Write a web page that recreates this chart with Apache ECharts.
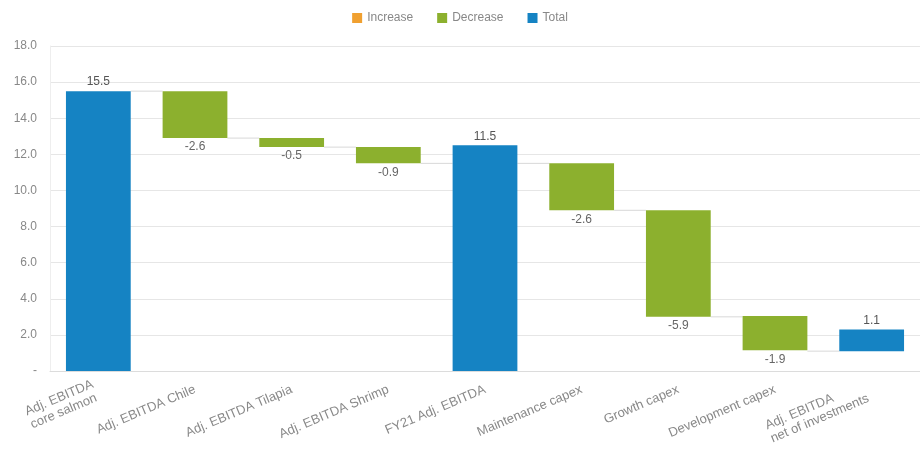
<!DOCTYPE html>
<html>
<head>
<meta charset="utf-8">
<title>Adj. EBITDA bridge</title>
<script src="https://cdn.jsdelivr.net/npm/echarts@6/dist/echarts.min.js"></script>
<style>
  html, body { margin: 0; padding: 0; background: #fff; }
  #chart { width: 920px; height: 450px; }
</style>
</head>
<body>
<div id="chart"></div>
<script>
const categories = [
  'Adj. EBITDA\ncore salmon',
  'Adj. EBITDA Chile',
  'Adj. EBITDA Tilapia',
  'Adj. EBITDA Shrimp',
  'FY21 Adj. EBITDA',
  'Maintenance capex',
  'Growth capex',
  'Development capex',
  'Adj. EBITDA\nnet of investments'
];
// invisible offset under each floating bar
const baseValues = [0, 12.9, 12.4, 11.5, 0, 8.9, 3.0, 1.15, 1.1];
const increaseValues = ['-', '-', '-', '-', '-', '-', '-', '-', '-'];
const decreaseValues = ['-', 2.6, 0.5, 0.9, '-', 2.6, 5.9, 1.9, '-'];
const totalValues = [15.5, '-', '-', '-', 12.5, '-', '-', '-', 1.2];
const barLabels = ['15.5', '-2.6', '-0.5', '-0.9', '11.5', '-2.6', '-5.9', '-1.9', '1.1'];
// level of the thin connector after each bar
const connectorLevels = [15.5, 12.9, 12.4, 11.5, 11.5, 8.9, 3.0, 1.1];

const COLORS = { increase: '#f0a030', decrease: '#8cb02e', total: '#1583c3' };

const chart = echarts.init(document.getElementById('chart'));

// two-line labels are left aligned inside their box
const labelFmt = v => {
  if (v.indexOf('\n') < 0) return v;
  return v.indexOf('salmon') > 0 ? '{s|' + v + '}' : '{n|' + v + '}';
};

const option = {
  animation: false,
  textStyle: { fontFamily: 'Liberation Sans, Arial, sans-serif' },
  legend: {
    top: 7,
    left: 'center',
    itemWidth: 10,
    itemHeight: 10,
    itemGap: 24,
    icon: 'rect',
    textStyle: { color: '#888', fontSize: 12 },
    data: ['Increase', 'Decrease', 'Total']
  },
  grid: { left: 50, right: -5, top: 46, bottom: 79, containLabel: false },
  xAxis: {
    type: 'category',
    data: categories,
    axisTick: { show: false },
    axisLine: { lineStyle: { color: '#dcdcdc' } },
    axisLabel: {
      rotate: 23,
      interval: 0,
      color: '#888',
      fontSize: 13,
      lineHeight: 14,
      margin: 18,
      formatter: labelFmt,
      rich: {
        s: { width: 76, align: 'left', color: '#888', fontSize: 13, lineHeight: 14 },
        n: { width: 112, align: 'left', color: '#888', fontSize: 13, lineHeight: 14 }
      }
    }
  },
  yAxis: {
    type: 'value',
    min: 0,
    max: 18,
    interval: 2,
    axisLine: { show: true, lineStyle: { color: '#eeeeee' } },
    axisTick: { show: false },
    splitLine: { lineStyle: { color: '#e6e6e6' } },
    axisLabel: {
      color: '#888',
      fontSize: 12,
      margin: 13,
      formatter: v => (v === 0 ? '-' : v.toFixed(1))
    }
  },
  series: [
    {
      name: 'connector',
      type: 'custom',
      z: 1,
      silent: true,
      data: connectorLevels.map((v, i) => [i, v]),
      renderItem: (params, api) => {
        const i = api.value(0);
        const p1 = api.coord([i, api.value(1)]);
        const p2 = api.coord([i + 1, api.value(1)]);
        const w = api.size([1, 0])[0] * 0.67 / 2;
        return {
          type: 'line',
          shape: { x1: p1[0] + w, y1: p1[1], x2: p2[0] - w, y2: p2[1] },
          style: { stroke: '#d8d8d8', lineWidth: 1 }
        };
      }
    },
    {
      name: 'base',
      type: 'bar',
      stack: 'wf',
      silent: true,
      barCategoryGap: '33%',
      itemStyle: { color: 'transparent' },
      data: baseValues
    },
    {
      name: 'Increase',
      type: 'bar',
      stack: 'wf',
      itemStyle: { color: COLORS.increase },
      data: increaseValues
    },
    {
      name: 'Decrease',
      type: 'bar',
      stack: 'wf',
      itemStyle: { color: COLORS.decrease },
      label: {
        show: true,
        position: 'bottom',
        distance: 3,
        color: '#666',
        fontSize: 12,
        formatter: p => barLabels[p.dataIndex]
      },
      data: decreaseValues
    },
    {
      name: 'Total',
      type: 'bar',
      stack: 'wf',
      itemStyle: { color: COLORS.total },
      label: {
        show: true,
        position: 'top',
        distance: 3,
        color: '#555',
        fontSize: 12,
        formatter: p => barLabels[p.dataIndex]
      },
      data: totalValues
    }
  ]
};

chart.setOption(option);
</script>
</body>
</html>
